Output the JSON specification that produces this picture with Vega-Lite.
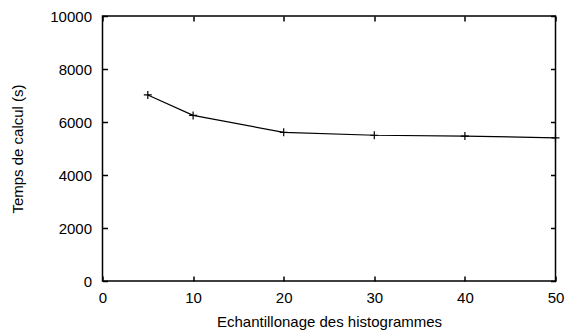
{
  "$schema": "https://vega.github.io/schema/vega-lite/v6.json",
  "width": 453,
  "height": 265,
  "autosize": {"type": "none"},
  "padding": {"left": 102.5, "top": 16, "right": 9.5, "bottom": 51},
  "background": "white",
  "config": {
    "view": {"stroke": "black", "strokeWidth": 1.5},
    "font": "Liberation Sans",
    "axis": {
      "domain": false, "zindex": 1,
      "ticks": true, "tickSize": 5, "tickWidth": 1.5, "tickColor": "black", "offset": -5,
      "grid": false, "labelFlush": false, "labelOverlap": false,
      "labelColor": "black", "labelFont": "Liberation Sans", "labelFontSize": 15,
      "titleColor": "black", "titleFont": "Liberation Sans", "titleFontSize": 15, "titleFontWeight": "normal"
    }
  },
  "data": {"values": [
    {"echantillonage": 5, "temps": 7020},
    {"echantillonage": 10, "temps": 6250},
    {"echantillonage": 20, "temps": 5610},
    {"echantillonage": 30, "temps": 5500},
    {"echantillonage": 40, "temps": 5470},
    {"echantillonage": 50, "temps": 5400}
  ]},
  "layer": [
    {
      "mark": {"type": "line", "color": "black", "strokeWidth": 1.2},
      "encoding": {
        "x": {"field": "echantillonage", "type": "quantitative",
          "scale": {"domain": [0, 50], "nice": false, "zero": false},
          "axis": {"orient": "bottom", "values": [0, 10, 20, 30, 40, 50], "format": "d", "title": "Echantillonage des histogrammes", "zindex": 1, "labelPadding": 9, "titlePadding": 9}},
        "y": {"field": "temps", "type": "quantitative",
          "scale": {"domain": [0, 10000], "nice": false},
          "axis": {"orient": "left", "values": [0, 2000, 4000, 6000, 8000, 10000], "format": "d", "title": "Temps de calcul (s)", "zindex": 1, "labelPadding": 11, "titlePadding": 24}}
      }
    },
    {
      "mark": {"type": "point", "shape": "M-1,0H1M0,-1V1", "filled": false, "stroke": "black", "strokeWidth": 1.2, "size": 64, "opacity": 1},
      "encoding": {
        "x": {"field": "echantillonage", "type": "quantitative",
          "scale": {"domain": [0, 50], "nice": false, "zero": false},
          "axis": {"orient": "top", "values": [0, 10, 20, 30, 40, 50], "labels": false, "title": null, "zindex": 1}},
        "y": {"field": "temps", "type": "quantitative",
          "scale": {"domain": [0, 10000], "nice": false},
          "axis": {"orient": "right", "values": [0, 2000, 4000, 6000, 8000, 10000], "labels": false, "title": null, "zindex": 1}}
      }
    }
  ],
  "resolve": {"scale": {"x": "independent", "y": "independent"}, "axis": {"x": "independent", "y": "independent"}}
}
